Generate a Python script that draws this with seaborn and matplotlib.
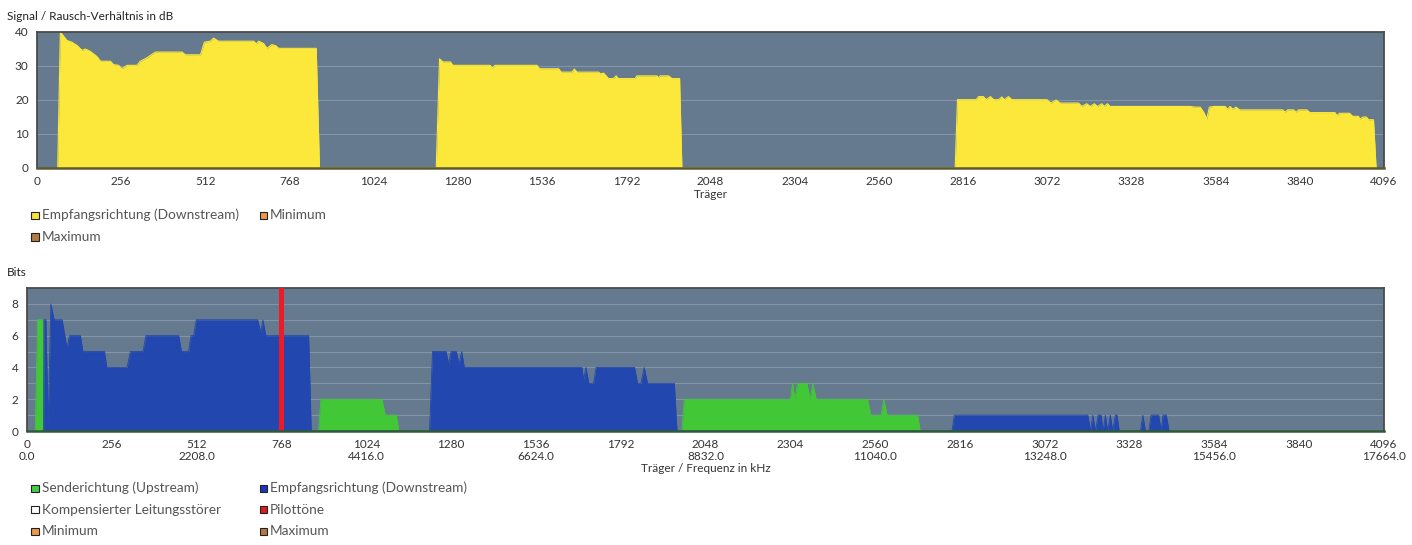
import matplotlib
matplotlib.use("Agg")
import matplotlib.pyplot as plt
import pandas as pd
import seaborn as sns
from matplotlib.patches import Rectangle

# --- SNR per carrier (downstream) ---
snr_carrier = [63, 71, 91, 106, 122, 137, 147, 162, 182, 193, 223, 233, 248, 258, 274, 304, 314, 334,
               360, 441, 451, 497, 509, 527, 537, 552, 659, 667, 674, 689, 699, 714, 725, 735, 849, 859,
               1214, 1224, 1234, 1257, 1265, 1378, 1384, 1393, 1520, 1528, 1586, 1594, 1627, 1634, 1642,
               1708, 1713, 1723, 1738, 1753, 1761, 1768, 1819, 1824, 1885, 1890, 1895, 1920, 1931, 1954, 1961,
               2792, 2799, 2856, 2863, 2878, 2886, 2899, 2909, 2924, 2934, 2941, 2954, 2964, 3071, 3083,
               3099, 3111, 3167, 3177, 3192, 3203, 3215, 3225, 3238, 3245, 3255, 3263, 3507, 3522, 3537,
               3549, 3557, 3565, 3578, 3613, 3620, 3628, 3636, 3646, 3657, 3788, 3795, 3803, 3821, 3829,
               3836, 3861, 3871, 3947, 3953, 3961, 3991, 4001, 4018, 4023, 4032, 4042, 4049, 4064, 4072]
snr_db = [0, 40, 37.5, 37, 36, 34.6, 35, 34.3, 32.8, 31.4, 31.4, 30.4, 30.2, 29.2, 30.2, 30.2, 31.4, 32.4,
          34.1, 34.1, 33.3, 33.3, 37, 37.3, 38.2, 37.3, 37.3, 36.5, 37.3, 36.6, 35.2, 36.3, 36, 35.2, 35.2, 0,
          0, 32.1, 31.2, 31.2, 30.2, 30.2, 29.4, 30.2, 30.2, 29.2, 29.2, 28.2, 28.2, 29.1, 28.2,
          28.2, 27.7, 27.9, 26.3, 26.3, 27.1, 26.3, 26.3, 27.1, 27.1, 26.5, 27.1, 27.1, 26.3, 26.3, 0,
          0, 20.1, 20.1, 21, 21, 20.1, 21, 20.1, 20.1, 20.9, 20.1, 21, 20.1, 20.1, 19.1,
          20, 19.1, 19.1, 18.1, 18.9, 18.1, 18.9, 18.1, 18.9, 18.1, 18.9, 18.1, 18.1, 17.9, 17.9,
          16.2, 14.4, 17.9, 18.1, 18.1, 17.3, 18.1, 17.3, 17.9, 17.1, 17.1, 16.4, 17.1, 17.1, 16.4,
          17.1, 17.1, 16.3, 16.3, 15.4, 16.1, 16.1, 15.2, 15.2, 14.4, 15.0, 15.0, 14.2, 14.2, 0]

# --- bit loading, lower chart ---
us_carrier = [25, 32, 48, 58, 880, 887, 1071, 1082, 1115, 1122, 1977, 1984, 2304, 2311, 2317, 2326,
              2354, 2364, 2372, 2382, 2537, 2547, 2578, 2586, 2596, 2688, 2696]
us_bits = [0, 7, 7, 0, 0, 2, 2, 1, 1, 0, 0, 2, 2, 3, 2, 3, 3, 2, 3, 2, 2, 1, 1, 2, 1, 1, 0]

ds_carrier = [50, 51, 57, 64, 72, 82, 106, 121, 128, 161, 169, 234, 241, 302, 312, 350, 359, 458, 466,
              488, 495, 503, 511, 696, 706, 712, 721, 850, 858,
              1215, 1224, 1265, 1273, 1280, 1296, 1304, 1312, 1320, 1675, 1680, 1687, 1696, 1710, 1718,
              1834, 1843, 1853, 1863, 1873, 1954, 1962,
              2792, 2799, 3202, 3210, 3217, 3225, 3233, 3242, 3248, 3255, 3262, 3270, 3277, 3285, 3290,
              3297, 3361, 3368, 3376, 3386, 3393, 3416, 3423, 3429, 3439, 3447]
ds_bits = [0, 7, 7, 0.5, 8, 7, 7, 5.2, 6, 6, 5, 5, 4, 4, 5, 5, 6, 6, 5,
           5, 6, 6, 7, 7, 6.2, 7, 6, 6, 0,
           0, 5, 5, 4.2, 5, 5, 4.2, 5, 4, 4, 3.2, 4, 3, 3, 4,
           4, 3, 3, 4, 3, 3, 0,
           0, 1, 1, 0, 1, 0, 1, 1, 0, 1, 0, 1, 0, 1, 1,
           0, 0, 1, 0, 0, 1, 1, 0, 1, 1, 0]

pilot_carrier = [768]

x_ticks = list(range(0, 4097, 256))
freq_labels = ["0.0", "2208.0", "4416.0", "6624.0", "8832.0", "11040.0", "13248.0", "15456.0", "17664.0"]

top_legend = [("Empfangsrichtung (Downstream)", "#f7e43a"), ("Minimum", "#e89a48"), ("Maximum", "#b07a45")]
bottom_legend = [("Senderichtung (Upstream)", "#44cc44"), ("Empfangsrichtung (Downstream)", "#2233bb"),
                 ("Kompensierter Leitungsstörer", "#ffffff"), ("Pilottöne", "#dd1c1c"),
                 ("Minimum", "#e89a48"), ("Maximum", "#b07a45")]

YELLOW = "#fce83b"
BLUE = "#2248b0"
GREEN = "#42c837"
RED = "#ee1b26"
BG = "#657a8e"
GRID = "#8294a6"
TXT = "#333333"

sns.set_style("white")
plt.rcParams['font.family'] = ['Lato', 'DejaVu Sans']

W, H = 1412, 545
fig = plt.figure(figsize=(W / 100, H / 100), dpi=100)
ax1 = fig.add_axes([37 / W, 1 - 168 / H, 1347 / W, 136 / H])
ax2 = fig.add_axes([27 / W, 1 - 431 / H, 1357 / W, 143 / H])


def style_axes(ax, ymax, ymajor, yminor, bottom_col):
    ax.set_facecolor(BG)
    ax.set_xlim(0, 4096)
    ax.set_ylim(0, ymax)
    ax.set_yticks(ymajor)
    ax.set_yticks(yminor, minor=True)
    for y in sorted(set(ymajor) | set(yminor)):
        if 0 < y < ymax:
            ax.axhline(y, color=GRID, lw=0.8, zorder=0.5)
    ax.tick_params(axis='both', which='both', direction='out', colors='#444444', labelcolor=TXT,
                   labelsize=8.5, length=4, width=0.8, pad=2)
    ax.tick_params(axis='y', which='minor', length=3)
    for side in ['top', 'right', 'left']:
        ax.spines[side].set_color('#4a4a4a')
        ax.spines[side].set_linewidth(1.3)
    ax.spines['bottom'].set_color(bottom_col)
    ax.spines['bottom'].set_linewidth(1.8)
    ax.spines['bottom'].set_zorder(5)


# upper chart: SNR
snr_df = pd.DataFrame({"carrier": snr_carrier, "snr": snr_db})
ax1.fill_between(snr_df["carrier"], snr_df["snr"], color=YELLOW, lw=0, zorder=2)
sns.lineplot(data=snr_df, x="carrier", y="snr", ax=ax1, color=YELLOW, lw=0.8,
             estimator=None, sort=False, legend=False, zorder=2.2)
style_axes(ax1, 40, [0, 10, 20, 30, 40], [], "#5d5a2e")
ax1.set_xticks(x_ticks)
ax1.set_xticklabels([str(t) for t in x_ticks])
ax1.set_xlabel("Träger", fontsize=8.5, color=TXT, labelpad=1)
ax1.set_ylabel("")

# lower chart: bits per carrier
us_df = pd.DataFrame({"carrier": us_carrier, "bits": us_bits})
ds_df = pd.DataFrame({"carrier": ds_carrier, "bits": ds_bits})
ax2.fill_between(us_df["carrier"], us_df["bits"], color=GREEN, lw=0, zorder=2)
sns.lineplot(data=us_df, x="carrier", y="bits", ax=ax2, color=GREEN, lw=0.6,
             estimator=None, sort=False, legend=False, zorder=2.1)
ax2.fill_between(ds_df["carrier"], ds_df["bits"], color=BLUE, lw=0, zorder=3)
sns.lineplot(data=ds_df, x="carrier", y="bits", ax=ax2, color=BLUE, lw=0.6,
             estimator=None, sort=False, legend=False, zorder=3.1)
ax2.bar(pilot_carrier, [9], width=15, color=RED, lw=0, zorder=4)
style_axes(ax2, 9, [0, 2, 4, 6, 8], [1, 3, 5, 7], "#2e5a36")
bottom_labels = []
for i, t in enumerate(x_ticks):
    if i % 2 == 0:
        bottom_labels.append(f"{t}\n{freq_labels[i // 2]}")
    else:
        bottom_labels.append(str(t))
ax2.set_xticks(x_ticks)
ax2.set_xticklabels(bottom_labels, linespacing=1.05)
ax2.set_xlabel("Träger / Frequenz in kHz", fontsize=8.5, color=TXT, labelpad=1)
ax2.set_ylabel("")

# axis titles above the plots
fig.text(7 / W, 1 - 17 / H, "Signal / Rausch-Verhältnis in dB", fontsize=8.5, color="#222222", va="center")
fig.text(7 / W, 1 - 272 / H, "Bits", fontsize=8.5, color="#222222", va="center")


def legend_item(x_px, y_px, label, color):
    s = 7
    fig.patches.append(Rectangle(((x_px - s / 2) / W, 1 - (y_px + s / 2) / H), s / W, s / H,
                                 transform=fig.transFigure, facecolor=color,
                                 edgecolor="#222222", lw=0.8))
    fig.text((x_px + 7) / W, 1 - y_px / H, label, fontsize=9.8, color="#555555", va="center")


# two legend columns, filled row by row
for i, (label, color) in enumerate(top_legend):
    legend_item(35 + 228 * (i % 2), 215 + 22 * (i // 2), label, color)
for i, (label, color) in enumerate(bottom_legend):
    legend_item(35 + 228 * (i % 2), 488 + 21.5 * (i // 2), label, color)

fig.savefig("out.png", dpi=100, facecolor="white")
